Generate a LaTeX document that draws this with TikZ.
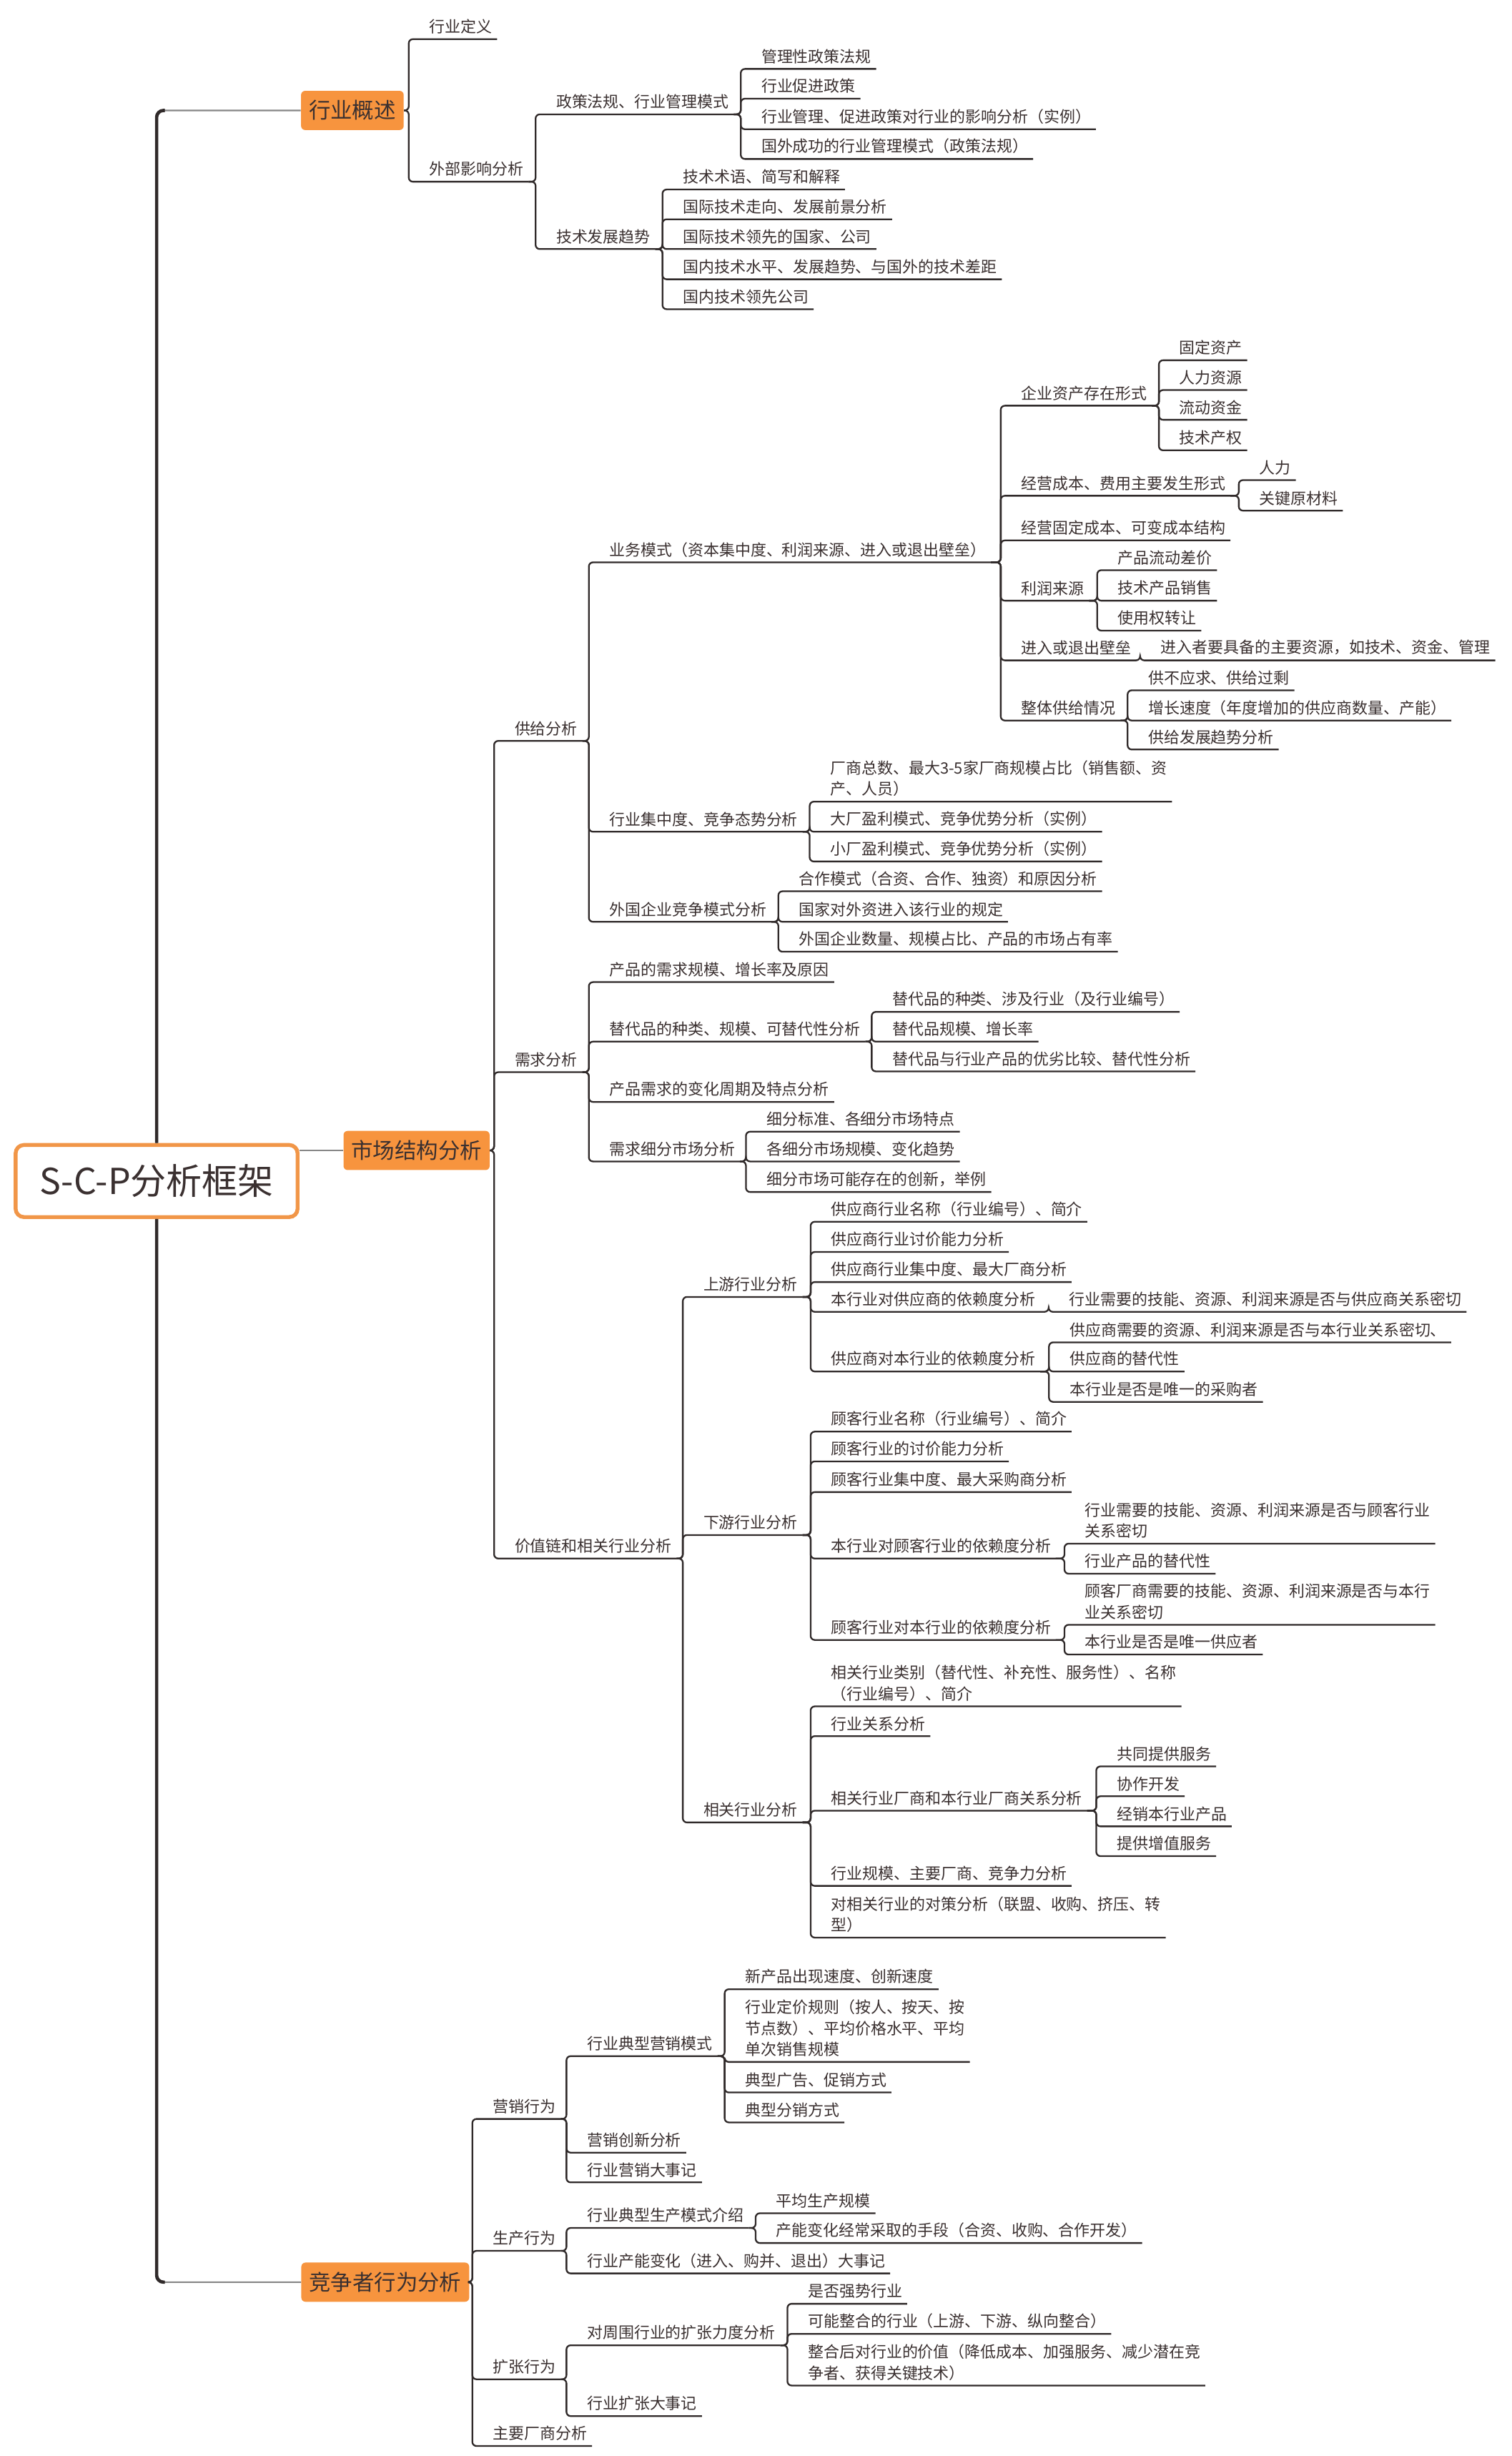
\documentclass[tikz,border=0pt]{standalone}
\usepackage{fontspec}
\setmainfont{Noto Sans CJK SC}
\usetikzlibrary{positioning,calc}
\definecolor{ink}{RGB}{58,48,48}
\definecolor{wire}{RGB}{48,42,42}
\definecolor{twiggrey}{RGB}{135,135,135}
\definecolor{hubfill}{RGB}{247,148,62}
\definecolor{rootline}{RGB}{241,150,72}

\begin{document}
\begin{tikzpicture}[x=0.04cm, y=-0.04cm,
  leaf/.style={anchor=south west, inner xsep=0.12cm, inner ysep=3.6pt, align=left,
               font=\fontsize{11.4}{15.3}\selectfont, text=ink},
  hub/.style={fill=hubfill, rounded corners=3pt, text=ink, inner xsep=0.2cm,
              minimum height=1cm, font=\fontsize{15.8}{18}\selectfont},
  root/.style={draw=rootline, line width=2.8pt, fill=white, rounded corners=6pt, text=ink,
               minimum width=7.2cm, minimum height=1.84cm, font=\fontsize{26}{30}\selectfont},
  conn/.style={draw=wire, line width=1.2pt, rounded corners=3pt},
  trunk/.style={draw=wire, line width=2.4pt, rounded corners=5pt},
  twig/.style={draw=twiggrey, line width=1.1pt, rounded corners=5pt}
]
  \fill[white] (0,0) rectangle (965,1568);
  \useasboundingbox (0,0) rectangle (965,1568);

  \node[root] (root) at (100,754) {S-C-P分析框架};
  \node[hub] (ov) at (225,70.5)  {行业概述};
  \node[hub] (ms) at (266,734.5) {市场结构分析};
  \node[hub] (cb) at (246,1457)  {竞争者行为分析};

  \draw[twig] (root.north) |- (ov.west);
  \draw[trunk] (root.north) |- ([xshift=6pt]root.north |- ov.west);
  \draw[twig] (root.south) |- (cb.west);
  \draw[trunk] (root.south) |- ([xshift=6pt]root.south |- cb.west);
  \draw[twig] (root.east |- ms.west) -- (ms.west);

  % industry overview
  \node[leaf] (ov1)   at (271,25)    {行业定义};
  \node[leaf] (ov2)   at (271,116)   {外部影响分析};
  \node[leaf] (ov21)  at (352,73)    {政策法规、行业管理模式};
  \node[leaf] (ov211) at (483,44)    {管理性政策法规};
  \node[leaf] (ov212) at (483,63)    {行业促进政策};
  \node[leaf] (ov213) at (483,82.5)  {行业管理、促进政策对行业的影响分析（实例）};
  \node[leaf] (ov214) at (483,101.5) {国外成功的行业管理模式（政策法规）};
  \node[leaf] (ov22)  at (352,159)   {技术发展趋势};
  \node[leaf] (ov221) at (433,121)   {技术术语、简写和解释};
  \node[leaf] (ov222) at (433,140)   {国际技术走向、发展前景分析};
  \node[leaf] (ov223) at (433,159)   {国际技术领先的国家、公司};
  \node[leaf] (ov224) at (433,178.3) {国内技术水平、发展趋势、与国外的技术差距};
  \node[leaf] (ov225) at (433,197.4) {国内技术领先公司};

  \draw[conn] (ov.east) -| ([xshift=-4mm]ov1.south west) -- (ov1.south east);
  \draw[conn] (ov.east) -| ([xshift=-4mm]ov2.south west) -- (ov2.south east);
  \draw[conn] (ov2.south east) -| ([xshift=-4mm]ov21.south west) -- (ov21.south east);
  \draw[conn] (ov2.south east) -| ([xshift=-4mm]ov22.south west) -- (ov22.south east);
  \draw[conn] (ov21.south east) -| ([xshift=-4mm]ov211.south west) -- (ov211.south east);
  \draw[conn] (ov21.south east) -| ([xshift=-4mm]ov212.south west) -- (ov212.south east);
  \draw[conn] (ov21.south east) -| ([xshift=-4mm]ov213.south west) -- (ov213.south east);
  \draw[conn] (ov21.south east) -| ([xshift=-4mm]ov214.south west) -- (ov214.south east);
  \draw[conn] (ov22.south east) -| ([xshift=-4mm]ov221.south west) -- (ov221.south east);
  \draw[conn] (ov22.south east) -| ([xshift=-4mm]ov222.south west) -- (ov222.south east);
  \draw[conn] (ov22.south east) -| ([xshift=-4mm]ov223.south west) -- (ov223.south east);
  \draw[conn] (ov22.south east) -| ([xshift=-4mm]ov224.south west) -- (ov224.south east);
  \draw[conn] (ov22.south east) -| ([xshift=-4mm]ov225.south west) -- (ov225.south east);

  % market structure: supply
  \node[leaf] (ms1)    at (325.5,473)   {供给分析};
  \node[leaf] (ms11)   at (386,359)     {业务模式（资本集中度、利润来源、进入或退出壁垒）};
  \node[leaf] (ms111)  at (649,259)     {企业资产存在形式};
  \node[leaf] (ms1111) at (750,230)     {固定资产};
  \node[leaf] (ms1112) at (750,249)     {人力资源};
  \node[leaf] (ms1113) at (750,268)     {流动资金};
  \node[leaf] (ms1114) at (750,287.5)   {技术产权};
  \node[leaf] (ms112)  at (649,316.5)   {经营成本、费用主要发生形式};
  \node[leaf] (ms1121) at (801,306.5)   {人力};
  \node[leaf] (ms1122) at (801,326)     {关键原材料};
  \node[leaf] (ms113)  at (649,345)     {经营固定成本、可变成本结构};
  \node[leaf] (ms114)  at (649,383.5)   {利润来源};
  \node[leaf] (ms1141) at (710.6,364)   {产品流动差价};
  \node[leaf] (ms1142) at (710.6,383.5) {技术产品销售};
  \node[leaf] (ms1143) at (710.6,402.6) {使用权转让};
  \node[leaf] (ms115)  at (649,421.6)   {进入或退出壁垒};
  \node[leaf] (ms1151) at (738,421.6)   {进入者要具备的主要资源，如技术、资金、管理};
  \node[leaf] (ms116)  at (649,460)     {整体供给情况};
  \node[leaf] (ms1161) at (730,440.7)   {供不应求、供给过剩};
  \node[leaf] (ms1162) at (730,460)     {增长速度（年度增加的供应商数量、产能）};
  \node[leaf] (ms1163) at (730,478.5)   {供给发展趋势分析};
  \node[leaf] (ms12)   at (386,531)     {行业集中度、竞争态势分析};
  \node[leaf] (ms121)  at (527,511.8)   {厂商总数、最大3-5家厂商规模占比（销售额、资\\产、人员）};
  \node[leaf] (ms122)  at (527,531)     {大厂盈利模式、竞争优势分析（实例）};
  \node[leaf] (ms123)  at (527,550)     {小厂盈利模式、竞争优势分析（实例）};
  \node[leaf] (ms13)   at (386,588.5)   {外国企业竞争模式分析};
  \node[leaf] (ms131)  at (507,569)     {合作模式（合资、合作、独资）和原因分析};
  \node[leaf] (ms132)  at (507,588.5)   {国家对外资进入该行业的规定};
  \node[leaf] (ms133)  at (507,607.6)   {外国企业数量、规模占比、产品的市场占有率};

  \draw[conn] (ms.east) -| ([xshift=-4mm]ms1.south west) -- (ms1.south east);
  \draw[conn] (ms1.south east) -| ([xshift=-4mm]ms11.south west) -- (ms11.south east);
  \draw[conn] (ms1.south east) -| ([xshift=-4mm]ms12.south west) -- (ms12.south east);
  \draw[conn] (ms1.south east) -| ([xshift=-4mm]ms13.south west) -- (ms13.south east);
  \draw[conn] (ms11.south east) -| ([xshift=-4mm]ms111.south west) -- (ms111.south east);
  \draw[conn] (ms11.south east) -| ([xshift=-4mm]ms112.south west) -- (ms112.south east);
  \draw[conn] (ms11.south east) -| ([xshift=-4mm]ms113.south west) -- (ms113.south east);
  \draw[conn] (ms11.south east) -| ([xshift=-4mm]ms114.south west) -- (ms114.south east);
  \draw[conn] (ms11.south east) -| ([xshift=-4mm]ms115.south west) -- (ms115.south east);
  \draw[conn] (ms11.south east) -| ([xshift=-4mm]ms116.south west) -- (ms116.south east);
  \draw[conn] (ms111.south east) -| ([xshift=-4mm]ms1111.south west) -- (ms1111.south east);
  \draw[conn] (ms111.south east) -| ([xshift=-4mm]ms1112.south west) -- (ms1112.south east);
  \draw[conn] (ms111.south east) -| ([xshift=-4mm]ms1113.south west) -- (ms1113.south east);
  \draw[conn] (ms111.south east) -| ([xshift=-4mm]ms1114.south west) -- (ms1114.south east);
  \draw[conn] (ms112.south east) -| ([xshift=-4mm]ms1121.south west) -- (ms1121.south east);
  \draw[conn] (ms112.south east) -| ([xshift=-4mm]ms1122.south west) -- (ms1122.south east);
  \draw[conn] (ms114.south east) -| ([xshift=-4mm]ms1141.south west) -- (ms1141.south east);
  \draw[conn] (ms114.south east) -| ([xshift=-4mm]ms1142.south west) -- (ms1142.south east);
  \draw[conn] (ms114.south east) -| ([xshift=-4mm]ms1143.south west) -- (ms1143.south east);
  \draw[conn] (ms115.south east) -| ([xshift=-4mm]ms1151.south west) -- (ms1151.south east);
  \draw[conn] (ms116.south east) -| ([xshift=-4mm]ms1161.south west) -- (ms1161.south east);
  \draw[conn] (ms116.south east) -| ([xshift=-4mm]ms1162.south west) -- (ms1162.south east);
  \draw[conn] (ms116.south east) -| ([xshift=-4mm]ms1163.south west) -- (ms1163.south east);
  \draw[conn] (ms12.south east) -| ([xshift=-4mm]ms121.south west) -- (ms121.south east);
  \draw[conn] (ms12.south east) -| ([xshift=-4mm]ms122.south west) -- (ms122.south east);
  \draw[conn] (ms12.south east) -| ([xshift=-4mm]ms123.south west) -- (ms123.south east);
  \draw[conn] (ms13.south east) -| ([xshift=-4mm]ms131.south west) -- (ms131.south east);
  \draw[conn] (ms13.south east) -| ([xshift=-4mm]ms132.south west) -- (ms132.south east);
  \draw[conn] (ms13.south east) -| ([xshift=-4mm]ms133.south west) -- (ms133.south east);

  % market structure: demand
  \node[leaf] (ms2)   at (325.5,684.5) {需求分析};
  \node[leaf] (ms21)  at (386,627)     {产品的需求规模、增长率及原因};
  \node[leaf] (ms22)  at (386,665)     {替代品的种类、规模、可替代性分析};
  \node[leaf] (ms221) at (566.6,646)   {替代品的种类、涉及行业（及行业编号）};
  \node[leaf] (ms222) at (566.6,665)   {替代品规模、增长率};
  \node[leaf] (ms223) at (566.6,684)   {替代品与行业产品的优劣比较、替代性分析};
  \node[leaf] (ms23)  at (386,703.5)   {产品需求的变化周期及特点分析};
  \node[leaf] (ms24)  at (386,741.5)   {需求细分市场分析};
  \node[leaf] (ms241) at (486.3,722.5) {细分标准、各细分市场特点};
  \node[leaf] (ms242) at (486.3,741.5) {各细分市场规模、变化趋势};
  \node[leaf] (ms243) at (486.3,761)   {细分市场可能存在的创新，举例};

  \draw[conn] (ms.east) -| ([xshift=-4mm]ms2.south west) -- (ms2.south east);
  \draw[conn] (ms2.south east) -| ([xshift=-4mm]ms21.south west) -- (ms21.south east);
  \draw[conn] (ms2.south east) -| ([xshift=-4mm]ms22.south west) -- (ms22.south east);
  \draw[conn] (ms2.south east) -| ([xshift=-4mm]ms23.south west) -- (ms23.south east);
  \draw[conn] (ms2.south east) -| ([xshift=-4mm]ms24.south west) -- (ms24.south east);
  \draw[conn] (ms22.south east) -| ([xshift=-4mm]ms221.south west) -- (ms221.south east);
  \draw[conn] (ms22.south east) -| ([xshift=-4mm]ms222.south west) -- (ms222.south east);
  \draw[conn] (ms22.south east) -| ([xshift=-4mm]ms223.south west) -- (ms223.south east);
  \draw[conn] (ms24.south east) -| ([xshift=-4mm]ms241.south west) -- (ms241.south east);
  \draw[conn] (ms24.south east) -| ([xshift=-4mm]ms242.south west) -- (ms242.south east);
  \draw[conn] (ms24.south east) -| ([xshift=-4mm]ms243.south west) -- (ms243.south east);

  % market structure: value chain
  \node[leaf] (ms3)    at (325.5,995)    {价值链和相关行业分析};
  \node[leaf] (ms31)   at (446,828)      {上游行业分析};
  \node[leaf] (ms311)  at (527.6,780)    {供应商行业名称（行业编号）、简介};
  \node[leaf] (ms312)  at (527.6,799.3)  {供应商行业讨价能力分析};
  \node[leaf] (ms313)  at (527.6,818.5)  {供应商行业集中度、最大厂商分析};
  \node[leaf] (ms314)  at (527.6,837.5)  {本行业对供应商的依赖度分析};
  \node[leaf] (ms3141) at (679.6,837.5)  {行业需要的技能、资源、利润来源是否与供应商关系密切};
  \node[leaf] (ms315)  at (527.6,875.6)  {供应商对本行业的依赖度分析};
  \node[leaf] (ms3151) at (679.8,857)    {供应商需要的资源、利润来源是否与本行业关系密切、};
  \node[leaf] (ms3152) at (679.8,875.6)  {供应商的替代性};
  \node[leaf] (ms3153) at (679.8,895)    {本行业是否是唯一的采购者};
  \node[leaf] (ms32)   at (446,980)      {下游行业分析};
  \node[leaf] (ms321)  at (527.6,914)    {顾客行业名称（行业编号）、简介};
  \node[leaf] (ms322)  at (527.6,933)    {顾客行业的讨价能力分析};
  \node[leaf] (ms323)  at (527.6,952.6)  {顾客行业集中度、最大采购商分析};
  \node[leaf] (ms324)  at (527.6,995)    {本行业对顾客行业的依赖度分析};
  \node[leaf] (ms3241) at (689.7,985.5)  {行业需要的技能、资源、利润来源是否与顾客行业\\关系密切};
  \node[leaf] (ms3242) at (689.7,1004.7) {行业产品的替代性};
  \node[leaf] (ms325)  at (527.6,1047)   {顾客行业对本行业的依赖度分析};
  \node[leaf] (ms3251) at (689.7,1037.3) {顾客厂商需要的技能、资源、利润来源是否与本行\\业关系密切};
  \node[leaf] (ms3252) at (689.7,1056.3) {本行业是否是唯一供应者};
  \node[leaf] (ms33)   at (446,1163.5)   {相关行业分析};
  \node[leaf] (ms331)  at (527.6,1089.4) {相关行业类别（替代性、补充性、服务性）、名称\\（行业编号）、简介};
  \node[leaf] (ms332)  at (527.6,1108.4) {行业关系分析};
  \node[leaf] (ms333)  at (527.6,1156)   {相关行业厂商和本行业厂商关系分析};
  \node[leaf] (ms3331) at (710,1127.7)   {共同提供服务};
  \node[leaf] (ms3332) at (710,1146.8)   {协作开发};
  \node[leaf] (ms3333) at (710,1166)     {经销本行业产品};
  \node[leaf] (ms3334) at (710,1185)     {提供增值服务};
  \node[leaf] (ms334)  at (527.6,1204)   {行业规模、主要厂商、竞争力分析};
  \node[leaf] (ms335)  at (527.6,1237)   {对相关行业的对策分析（联盟、收购、挤压、转\\型）};

  \draw[conn] (ms.east) -| ([xshift=-4mm]ms3.south west) -- (ms3.south east);
  \draw[conn] (ms3.south east) -| ([xshift=-4mm]ms31.south west) -- (ms31.south east);
  \draw[conn] (ms3.south east) -| ([xshift=-4mm]ms32.south west) -- (ms32.south east);
  \draw[conn] (ms3.south east) -| ([xshift=-4mm]ms33.south west) -- (ms33.south east);
  \draw[conn] (ms31.south east) -| ([xshift=-4mm]ms311.south west) -- (ms311.south east);
  \draw[conn] (ms31.south east) -| ([xshift=-4mm]ms312.south west) -- (ms312.south east);
  \draw[conn] (ms31.south east) -| ([xshift=-4mm]ms313.south west) -- (ms313.south east);
  \draw[conn] (ms31.south east) -| ([xshift=-4mm]ms314.south west) -- (ms314.south east);
  \draw[conn] (ms31.south east) -| ([xshift=-4mm]ms315.south west) -- (ms315.south east);
  \draw[conn] (ms314.south east) -| ([xshift=-4mm]ms3141.south west) -- (ms3141.south east);
  \draw[conn] (ms315.south east) -| ([xshift=-4mm]ms3151.south west) -- (ms3151.south east);
  \draw[conn] (ms315.south east) -| ([xshift=-4mm]ms3152.south west) -- (ms3152.south east);
  \draw[conn] (ms315.south east) -| ([xshift=-4mm]ms3153.south west) -- (ms3153.south east);
  \draw[conn] (ms32.south east) -| ([xshift=-4mm]ms321.south west) -- (ms321.south east);
  \draw[conn] (ms32.south east) -| ([xshift=-4mm]ms322.south west) -- (ms322.south east);
  \draw[conn] (ms32.south east) -| ([xshift=-4mm]ms323.south west) -- (ms323.south east);
  \draw[conn] (ms32.south east) -| ([xshift=-4mm]ms324.south west) -- (ms324.south east);
  \draw[conn] (ms32.south east) -| ([xshift=-4mm]ms325.south west) -- (ms325.south east);
  \draw[conn] (ms324.south east) -| ([xshift=-4mm]ms3241.south west) -- (ms3241.south east);
  \draw[conn] (ms324.south east) -| ([xshift=-4mm]ms3242.south west) -- (ms3242.south east);
  \draw[conn] (ms325.south east) -| ([xshift=-4mm]ms3251.south west) -- (ms3251.south east);
  \draw[conn] (ms325.south east) -| ([xshift=-4mm]ms3252.south west) -- (ms3252.south east);
  \draw[conn] (ms33.south east) -| ([xshift=-4mm]ms331.south west) -- (ms331.south east);
  \draw[conn] (ms33.south east) -| ([xshift=-4mm]ms332.south west) -- (ms332.south east);
  \draw[conn] (ms33.south east) -| ([xshift=-4mm]ms333.south west) -- (ms333.south east);
  \draw[conn] (ms33.south east) -| ([xshift=-4mm]ms334.south west) -- (ms334.south east);
  \draw[conn] (ms33.south east) -| ([xshift=-4mm]ms335.south west) -- (ms335.south east);
  \draw[conn] (ms333.south east) -| ([xshift=-4mm]ms3331.south west) -- (ms3331.south east);
  \draw[conn] (ms333.south east) -| ([xshift=-4mm]ms3332.south west) -- (ms3332.south east);
  \draw[conn] (ms333.south east) -| ([xshift=-4mm]ms3333.south west) -- (ms3333.south east);
  \draw[conn] (ms333.south east) -| ([xshift=-4mm]ms3334.south west) -- (ms3334.south east);

  % competitor behaviour
  \node[leaf] (cb1)   at (311.6,1352.8) {营销行为};
  \node[leaf] (cb11)  at (371.7,1312.7) {行业典型营销模式};
  \node[leaf] (cb111) at (472.7,1270)   {新产品出现速度、创新速度};
  \node[leaf] (cb112) at (472.7,1316.4) {行业定价规则（按人、按天、按\\节点数）、平均价格水平、平均\\单次销售规模};
  \node[leaf] (cb113) at (472.7,1335.9) {典型广告、促销方式};
  \node[leaf] (cb114) at (472.7,1355)   {典型分销方式};
  \node[leaf] (cb12)  at (371.7,1374.3) {营销创新分析};
  \node[leaf] (cb13)  at (371.7,1393.3) {行业营销大事记};
  \node[leaf] (cb2)   at (311.6,1437)   {生产行为};
  \node[leaf] (cb21)  at (371.7,1422.4) {行业典型生产模式介绍};
  \node[leaf] (cb211) at (492.5,1413)   {平均生产规模};
  \node[leaf] (cb212) at (492.5,1432)   {产能变化经常采取的手段（合资、收购、合作开发）};
  \node[leaf] (cb22)  at (371.7,1451.4) {行业产能变化（进入、购并、退出）大事记};
  \node[leaf] (cb3)   at (311.6,1519)   {扩张行为};
  \node[leaf] (cb31)  at (371.7,1497.3) {对周围行业的扩张力度分析};
  \node[leaf] (cb311) at (512.8,1470.8) {是否强势行业};
  \node[leaf] (cb312) at (512.8,1490)   {可能整合的行业（上游、下游、纵向整合）};
  \node[leaf] (cb313) at (512.8,1523)   {整合后对行业的价值（降低成本、加强服务、减少潜在竞\\争者、获得关键技术）};
  \node[leaf] (cb32)  at (371.7,1542.5) {行业扩张大事记};
  \node[leaf] (cb4)   at (311.6,1561.6) {主要厂商分析};

  \draw[conn] (cb.east) -| ([xshift=-4mm]cb1.south west) -- (cb1.south east);
  \draw[conn] (cb.east) -| ([xshift=-4mm]cb2.south west) -- (cb2.south east);
  \draw[conn] (cb.east) -| ([xshift=-4mm]cb3.south west) -- (cb3.south east);
  \draw[conn] (cb.east) -| ([xshift=-4mm]cb4.south west) -- (cb4.south east);
  \draw[conn] (cb1.south east) -| ([xshift=-4mm]cb11.south west) -- (cb11.south east);
  \draw[conn] (cb1.south east) -| ([xshift=-4mm]cb12.south west) -- (cb12.south east);
  \draw[conn] (cb1.south east) -| ([xshift=-4mm]cb13.south west) -- (cb13.south east);
  \draw[conn] (cb11.south east) -| ([xshift=-4mm]cb111.south west) -- (cb111.south east);
  \draw[conn] (cb11.south east) -| ([xshift=-4mm]cb112.south west) -- (cb112.south east);
  \draw[conn] (cb11.south east) -| ([xshift=-4mm]cb113.south west) -- (cb113.south east);
  \draw[conn] (cb11.south east) -| ([xshift=-4mm]cb114.south west) -- (cb114.south east);
  \draw[conn] (cb2.south east) -| ([xshift=-4mm]cb21.south west) -- (cb21.south east);
  \draw[conn] (cb2.south east) -| ([xshift=-4mm]cb22.south west) -- (cb22.south east);
  \draw[conn] (cb21.south east) -| ([xshift=-4mm]cb211.south west) -- (cb211.south east);
  \draw[conn] (cb21.south east) -| ([xshift=-4mm]cb212.south west) -- (cb212.south east);
  \draw[conn] (cb3.south east) -| ([xshift=-4mm]cb31.south west) -- (cb31.south east);
  \draw[conn] (cb3.south east) -| ([xshift=-4mm]cb32.south west) -- (cb32.south east);
  \draw[conn] (cb31.south east) -| ([xshift=-4mm]cb311.south west) -- (cb311.south east);
  \draw[conn] (cb31.south east) -| ([xshift=-4mm]cb312.south west) -- (cb312.south east);
  \draw[conn] (cb31.south east) -| ([xshift=-4mm]cb313.south west) -- (cb313.south east);
\end{tikzpicture}
\end{document}
